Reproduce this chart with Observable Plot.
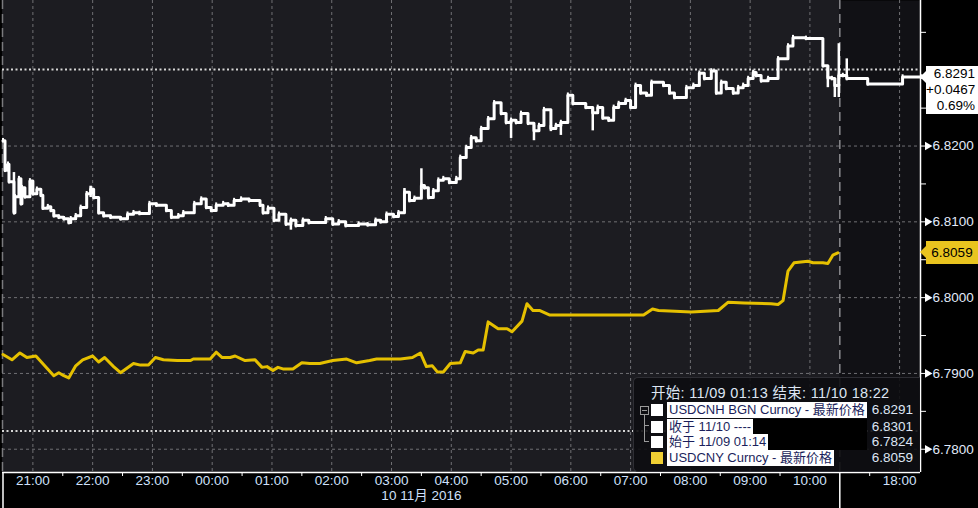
<!DOCTYPE html>
<html><head><meta charset="utf-8">
<script src="https://cdn.jsdelivr.net/npm/d3@7"></script>
<script src="https://cdn.jsdelivr.net/npm/@observablehq/plot@0.6"></script>
<style>
body{margin:0;background:#000;}
#wrap{position:relative;width:978px;height:508px;overflow:hidden;font-family:"Liberation Sans","Noto Sans CJK SC",sans-serif;}
#wrap svg{display:block;}
.vbox{position:absolute;left:926px;width:52px;box-sizing:border-box;color:#000;font-size:13.5px;}
.vbox::before{content:"";position:absolute;left:-6px;top:5px;border-top:6px solid transparent;border-bottom:6px solid transparent;}
.vbox.w{background:#fff;text-align:right;padding-right:3px;line-height:16px;}
.vbox.w::before{border-right:6px solid #fff;}
.vbox.y{background:#e9c41f;text-align:center;line-height:23px;height:23px;}
.vbox.y::before{border-right:6px solid #e9c41f;}
#legend{position:absolute;left:633px;top:377px;width:287px;height:95px;box-sizing:border-box;background:rgba(13,13,17,0.9);border:1px solid #2e2e34;border-right:none;border-radius:5px 0 0 5px;color:#dde5f3;}
#legend .hdr{position:absolute;left:17px;top:7px;font-size:14.5px;line-height:16px;white-space:nowrap;letter-spacing:0.3px;}
#legend .row{position:absolute;left:0;width:100%;height:16px;line-height:16px;font-size:13px;white-space:nowrap;}
#legend .sq{position:absolute;left:17px;top:2px;width:12px;height:12px;}
#legend .band{position:absolute;left:33px;width:200px;height:16px;}
#legend .lab{display:inline-block;background:#fff;color:#1b1f5c;padding:0 2px;height:16px;}
#legend .val{position:absolute;right:7px;top:0;font-size:13.5px;}
#legend .tree{position:absolute;background:#9a9a9a;}
</style>
</head><body>
<div id="wrap"></div>
<script>
// ---------- data ----------
const cnhTimes = ["20:30","20:32","20:35","20:36","20:41","20:42","20:46","20:48","20:49","20:52","20:57","21:00","21:04","21:08","21:10","21:15","21:18","21:21","21:26","21:31","21:36","21:38","21:43","21:48","21:54","21:58","22:01","22:06","22:11","22:18","22:28","22:35","22:41","22:47","22:57","23:04","23:14","23:19","23:26","23:31","23:42","23:49","23:54","23:59","00:04","00:11","00:16","00:22","00:29","00:37","00:48","00:51","00:56","01:02","01:07","01:14","01:19","01:24","01:31","01:37","01:54","02:01","02:07","02:14","02:27","02:36","02:44","02:49","02:55","03:02","03:07","03:13","03:18","03:23","03:30","03:33","03:37","03:42","03:47","03:52","03:58","04:05","04:09","04:15","04:20","04:25","04:30","04:37","04:43","04:50","04:55","05:00","05:05","05:10","05:17","05:23","05:28","05:33","05:40","05:45","05:50","05:57","06:02","06:15","06:22","06:27","06:32","06:38","06:43","06:48","06:55","07:00","07:05","07:10","07:16","07:21","07:33","07:39","07:44","07:56","08:03","08:09","08:14","08:21","08:26","08:31","08:36","08:43","08:48","08:53","08:58","09:03","09:06","09:11","09:18","09:28","09:38","09:43","09:56","10:13","10:18","10:22","10:25","10:29","17:03","17:07","17:28","18:03","18:22"];
const cnhValues = [6.8207,6.8168,6.8176,6.8153,6.8112,6.8133,6.8157,6.8124,6.8145,6.8133,6.8154,6.8137,6.8143,6.8135,6.8118,6.8120,6.8115,6.8108,6.8106,6.8104,6.8099,6.8104,6.8108,6.8119,6.8137,6.8143,6.8132,6.8112,6.8108,6.8106,6.8104,6.8110,6.8112,6.8111,6.8124,6.8122,6.8115,6.8106,6.8108,6.8112,6.8124,6.8130,6.8119,6.8115,6.8122,6.8124,6.8122,6.8128,6.8130,6.8128,6.8122,6.8112,6.8118,6.8102,6.8110,6.8097,6.8102,6.8095,6.8102,6.8099,6.8104,6.8097,6.8100,6.8095,6.8097,6.8096,6.8102,6.8100,6.8110,6.8107,6.8112,6.8139,6.8128,6.8131,6.8148,6.8145,6.8132,6.8141,6.8155,6.8157,6.8152,6.8157,6.8185,6.8198,6.8211,6.8207,6.8223,6.8236,6.8257,6.8243,6.8231,6.8234,6.8231,6.8243,6.8230,6.8220,6.8227,6.8248,6.8223,6.8227,6.8231,6.8267,6.8256,6.8251,6.8244,6.8251,6.8237,6.8234,6.8251,6.8256,6.8260,6.8251,6.8280,6.8270,6.8267,6.8284,6.8280,6.8270,6.8264,6.8277,6.8280,6.8296,6.8289,6.8299,6.8270,6.8284,6.8276,6.8270,6.8277,6.8280,6.8289,6.8297,6.8293,6.8286,6.8289,6.8315,6.8332,6.8343,6.8342,6.8306,6.8290,6.8289,6.8280,6.8293,6.8293,6.8289,6.8282,6.8291,6.8291];

const cnhSpikeTimes = ["20:41","21:58","01:19","03:13","03:30","05:00","05:23","05:40","05:50","06:22","10:18","10:25","10:29","17:07"];
const cnhSpikeLow  = [6.8112,6.8132,6.8089,6.8134,6.8145,6.8210,6.8207,6.8219,6.8214,6.8220,6.8277,6.8264,6.8264,6.8289];
const cnhSpikeHigh = [6.8165,6.8147,6.8102,6.8144,6.8170,6.8234,6.8227,6.8227,6.8231,6.8251,6.8306,6.8289,6.8335,6.8315];

const cnyTimes = ["20:30","20:39","20:47","20:54","21:03","21:21","21:26","21:31","21:36","21:43","21:50","22:00","22:06","22:12","22:21","22:28","22:41","22:48","22:56","23:03","23:11","23:25","23:38","23:41","23:58","00:04","00:10","00:18","00:23","00:33","00:43","00:50","00:55","01:01","01:06","01:11","01:21","01:30","01:38","01:48","02:01","02:15","02:25","02:38","02:45","03:09","03:21","03:29","03:35","03:41","03:46","03:52","03:59","04:09","04:14","04:22","04:27","04:32","04:37","04:47","04:56","05:01","05:11","05:16","05:22","05:29","05:39","06:02","07:13","07:22","07:28","08:01","08:28","08:38","08:54","09:21","09:28","09:33","09:38","09:44","09:58","10:03","10:13","10:18","10:23","10:28"];
const cnyValues = [6.7925,6.7918,6.7927,6.7921,6.7923,6.7897,6.7901,6.7897,6.7894,6.7910,6.7918,6.7923,6.7915,6.7921,6.7909,6.7901,6.7913,6.7911,6.7911,6.7921,6.7918,6.7917,6.7917,6.7919,6.7919,6.7928,6.7921,6.7921,6.7923,6.7917,6.7918,6.7908,6.7909,6.7904,6.7908,6.7906,6.7906,6.7914,6.7913,6.7913,6.7917,6.7919,6.7914,6.7917,6.7919,6.7919,6.7921,6.7927,6.7909,6.7910,6.7902,6.7902,6.7913,6.7914,6.7929,6.7927,6.7931,6.7931,6.7968,6.7959,6.7959,6.7955,6.7969,6.7992,6.7983,6.7983,6.7977,6.7977,6.7977,6.7985,6.7983,6.7981,6.7983,6.7994,6.7993,6.7992,6.7991,6.7996,6.8035,6.8046,6.8048,6.8046,6.8046,6.8045,6.8056,6.8059];

const hourTicks = ["21:00","22:00","23:00","00:00","01:00","02:00","03:00","04:00","05:00","06:00","07:00","08:00","09:00","10:00","18:00"];
const halfHourTicks = ["21:30","22:30","23:30","00:30","01:30","02:30","03:30","04:30","05:30","06:30","07:30","08:30","09:30","17:30"];
const yMajorTicks = [6.78, 6.79, 6.80, 6.81, 6.82];
const yMinorTicks = [6.785, 6.795, 6.805, 6.815, 6.825, 6.835];
const sessionStart = "20:30", sessionBreak = "10:30", sessionEnd = "18:22";
const dateLabel = "10 11月 2016", dateLabelAt = "03:30";
const closeLevel = 6.8301, startLevel = 6.7824;
const cnhLast = 6.8291, cnhChange = "+0.0467", cnhPct = "0.69%";
const cnyLast = 6.8059;
const legendHeader = "开始: 11/09 01:13 结束: 11/10 18:22";
const legendRows = [
  {label: "USDCNH BGN Curncy - 最新价格", value: "6.8291", color: "#ffffff", band: false},
  {label: "收于 11/10 ----", value: "6.8301", color: "#ffffff", band: true},
  {label: "始于 11/09 01:14", value: "6.7824", color: "#ffffff", band: true},
  {label: "USDCNY Curncy - 最新价格", value: "6.8059", color: "#f0cf33", band: false}
];
const xDomain = [-0.5, 921];
const yDomain = [6.77693, 6.8392];

// position on the broken time axis (minutes from 20:30; 10:30 joins 17:00)
function toPos(t) {
  const [h, m] = t.split(":").map(Number);
  if (h >= 20) return (h - 20) * 60 + m - 30;
  if (h <= 10) return (h + 4) * 60 + m - 30;
  return 840 + (h - 17) * 60 + m;
}

const cnh = cnhTimes.map((t, i) => ({x: toPos(t), v: cnhValues[i]}));
const cny = cnyTimes.map((t, i) => ({x: toPos(t), v: cnyValues[i]}));
const spikes = cnhSpikeTimes.map((t, i) => ({x: toPos(t), lo: cnhSpikeLow[i], hi: cnhSpikeHigh[i]}));
const fmt4 = d3.format(".4f");
const axisColor = "#e2eafa";

const chart = Plot.plot({
  width: 978, height: 508,
  marginLeft: 2, marginRight: 58, marginTop: 0, marginBottom: 36,
  x: {type: "linear", domain: xDomain, label: null},
  y: {domain: yDomain, label: null},
  style: {background: "#000", fontFamily: "'Liberation Sans','Noto Sans CJK SC',sans-serif", fontSize: "13px", overflow: "visible"},
  marks: [
    Plot.frame({fill: "#111115", stroke: "none"}),
    Plot.rect([{a: sessionStart, b: sessionBreak}], {x1: d => Math.max(xDomain[0], toPos(d.a) - 0.5), x2: d => toPos(d.b), fill: "#1c1c21"}),
    Plot.ruleX(hourTicks, {x: toPos, stroke: "#707074", strokeWidth: 1, strokeDasharray: "3,3"}),
    Plot.ruleY(yMajorTicks, {y: d => d, stroke: "#707074", strokeWidth: 1, strokeDasharray: "3,3"}),
    Plot.ruleX([sessionStart], {x: d => toPos(d) - 0.5, stroke: "#7a7a7e", strokeWidth: 1.5, strokeDasharray: "9,5"}),
    Plot.ruleX([sessionBreak], {x: toPos, stroke: "#8a8a8e", strokeWidth: 1.5, strokeDasharray: "9,5"}),
    Plot.ruleY([closeLevel, startLevel], {y: d => d, stroke: "#d6d6d6", strokeWidth: 2, strokeDasharray: "2,2.5"}),
    Plot.line(cny, {x: "x", y: "v", stroke: "#e5c000", strokeWidth: 3, strokeLinejoin: "round"}),
    Plot.ruleX(cnh, {x: "x", y1: d => d.v - 0.0003, y2: d => d.v + 0.0003, stroke: "#fff", strokeWidth: 2}),
    Plot.ruleX(spikes, {x: "x", y1: "lo", y2: "hi", stroke: "#fff", strokeWidth: 2.5}),
    Plot.line(cnh, {x: "x", y: "v", curve: "step-after", stroke: "#fff", strokeWidth: 3}),
    Plot.ruleY([yDomain[0]], {stroke: "#fff", strokeWidth: 1.5}),
    Plot.ruleX([xDomain[1]], {stroke: "#fff", strokeWidth: 1.5}),
    Plot.axisY(yMajorTicks, {anchor: "right", tickSize: 4, tickPadding: 8, tickFormat: fmt4, stroke: "#fff", fill: axisColor, fontSize: 13.5, label: null}),
    Plot.axisY(yMinorTicks, {anchor: "right", tickSize: 5, tickFormat: () => "", stroke: "#fff", label: null}),
    Plot.dot(yMajorTicks, {y: d => d, frameAnchor: "right", dx: 7, symbol: "triangle", r: 3.2, rotate: 90, fill: "#fff", stroke: "none"}),
    Plot.axisX(halfHourTicks.map(toPos), {tickSize: 4, tickFormat: () => "", stroke: "#fff", label: null}),
    Plot.axisX([toPos(sessionBreak)], {tickSize: 36, tickFormat: () => "", stroke: "#fff", strokeWidth: 1.5, label: null}),
    Plot.axisX([xDomain[0] + 0.5], {tickSize: 36, tickFormat: () => "", stroke: "#fff", strokeWidth: 1.5, label: null}),
    Plot.text(hourTicks, {x: toPos, text: d => d, frameAnchor: "bottom", dy: 12, fill: "#cfe0fb", fontSize: 13.5}),
    Plot.text([dateLabel], {x: () => toPos(dateLabelAt), text: d => d, frameAnchor: "bottom", dy: 27, fill: "#cfe0fb", fontSize: 13.5})
  ]
});

const wrap = document.getElementById("wrap");
wrap.appendChild(chart);
const ys = chart.scale("y");

// last-value boxes on the price axis
const yC = ys.apply(cnhLast);
const b1 = document.createElement("div");
b1.className = "vbox w";
b1.style.top = (yC - 11) + "px";
b1.innerHTML = `<div>${fmt4(cnhLast)}</div><div>${cnhChange}</div><div>${cnhPct}</div>`;
wrap.appendChild(b1);

const yY = ys.apply(cnyLast);
const b2 = document.createElement("div");
b2.className = "vbox y";
b2.style.top = (yY - 11.5) + "px";
b2.textContent = fmt4(cnyLast);
wrap.appendChild(b2);

// legend
const lg = document.createElement("div");
lg.id = "legend";
let html = `<div class="hdr">${legendHeader}</div>`;
const rowTops = [24, 41, 56, 72];
legendRows.forEach((r, i) => {
  html += `<div class="row" style="top:${rowTops[i]}px">
    <div class="sq" style="background:${r.color}"></div>
    <div class="band" style="background:${r.band ? "#000" : "transparent"}"><span class="lab">${r.label}</span></div>
    <div class="val">${r.value}</div></div>`;
});
html += `<div class="tree" style="left:6px;top:28px;width:7px;height:7px;background:none;border:1px solid #9a9a9a"></div>
<div class="tree" style="left:8px;top:32px;width:5px;height:1px"></div>
<div class="tree" style="left:10px;top:37px;width:1px;height:27px"></div>
<div class="tree" style="left:10px;top:47px;width:5px;height:1px"></div>
<div class="tree" style="left:10px;top:63px;width:5px;height:1px"></div>`;
lg.innerHTML = html;
wrap.appendChild(lg);
</script>
</body></html>
